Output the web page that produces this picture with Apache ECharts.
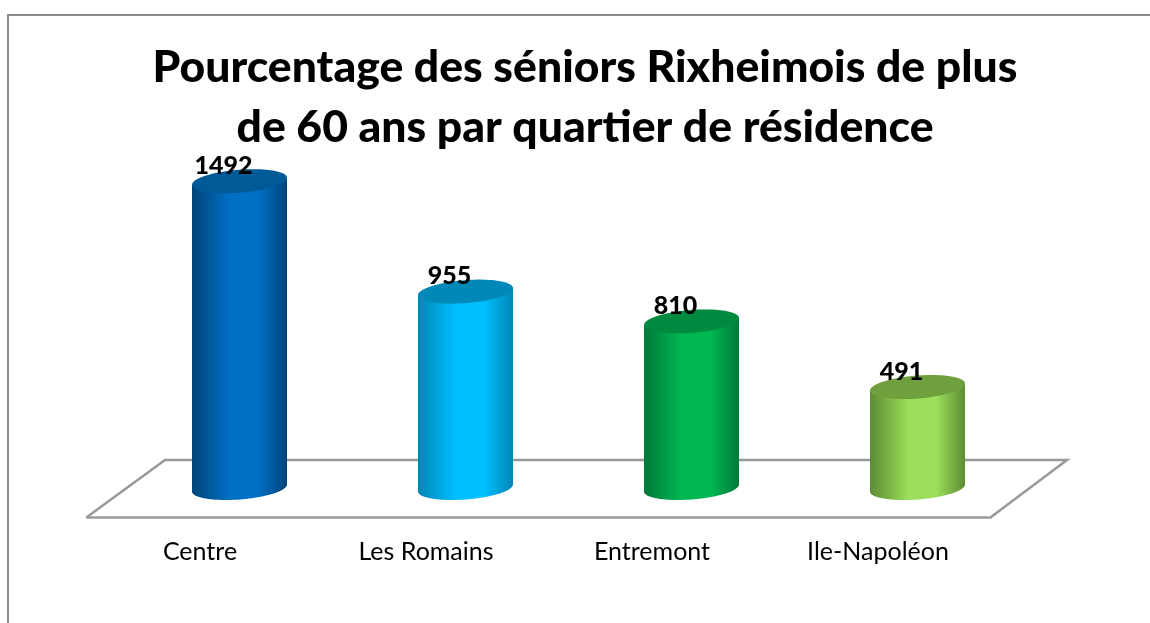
<!DOCTYPE html>
<html>
<head>
<meta charset="utf-8">
<style>
    html, body { margin: 0; padding: 0; background: #fff; }
    #chart { width: 1150px; height: 623px; }
</style>
<script src="https://cdn.jsdelivr.net/npm/echarts@6/dist/echarts.min.js"></script>
</head>
<body>
<div id="chart"></div>
<script>
const quartiers = ['Centre', 'Les Romains', 'Entremont', 'Ile-Napoléon'];
const seniors = [1492, 955, 810, 491];
const titleLines = ['Pourcentage des séniors Rixheimois de plus', 'de 60 ans par quartier de résidence'];

// edge, middle, top of each cylinder
const cylinderColors = [
    ['#00447a', '#0070c4', '#005a98'],
    ['#0086b4', '#00bfff', '#0088b8'],
    ['#00793a', '#00b852', '#008a40'],
    ['#5d8b33', '#9ade5a', '#70a03e']
];

const fontName = 'Lato, "Open Sans", sans-serif';
const depthX = 39.5;   // the bars stand back on the floor
const depthY = -29;
const radiusX = 47.5;
const radiusY = 11.5;
const tilt = 0.074;

function ellipsePoint(cx, cy, t) {
    const x = radiusX * Math.cos(t);
    return [cx + x, cy + radiusY * Math.sin(t) - tilt * x];
}

function renderCylinder(params, api) {
    const i = api.value(0);
    const top = api.coord([i, api.value(1)]);
    const base = api.coord([i, 0]);
    const cx = base[0] + depthX;
    const topY = top[1] + depthY;
    const baseY = base[1] + depthY;
    const colors = cylinderColors[i];

    const steps = 48;
    const body = [];
    const lid = [];
    for (let k = 0; k <= steps; k++) {
        // front half of the base, then back along the top
        body.push(ellipsePoint(cx, baseY, Math.PI * (1 - k / steps)));
    }
    body.push(ellipsePoint(cx, topY, 0), ellipsePoint(cx, topY, Math.PI));
    for (let k = 0; k < steps * 2; k++) {
        lid.push(ellipsePoint(cx, topY, Math.PI * k / steps));
    }

    return {
        type: 'group',
        children: [
            {
                type: 'polygon',
                shape: { points: body },
                style: {
                    fill: new echarts.graphic.LinearGradient(0, 0, 1, 0, [
                        { offset: 0, color: colors[0] },
                        { offset: 0.4, color: colors[1] },
                        { offset: 0.7, color: colors[1] },
                        { offset: 1, color: colors[0] }
                    ])
                }
            },
            {
                type: 'polygon',
                shape: { points: lid },
                style: { fill: colors[2] }
            },
            {
                type: 'text',
                z2: 10,
                style: {
                    x: cx - 16,
                    y: topY - 15.5,
                    text: String(api.value(1)),
                    align: 'center',
                    verticalAlign: 'middle',
                    font: '900 25px ' + fontName,
                    fill: '#000'
                }
            }
        ]
    };
}

const chart = echarts.init(document.getElementById('chart'));
chart.setOption({
    animation: false,
    backgroundColor: '#fff',
    title: {
        text: titleLines.join('\n'),
        left: 580,
        top: 33,
        textAlign: 'center',
        textStyle: {
            fontFamily: fontName,
            fontWeight: 900,
            fontSize: 44.5,
            lineHeight: 60,
            color: '#000'
        }
    },
    grid: { left: 87, width: 904, top: 188, height: 329 },
    xAxis: {
        type: 'category',
        data: quartiers,
        axisTick: { show: false },
        axisLine: { lineStyle: { color: '#999', width: 2.5 } },
        axisLabel: {
            interval: 0,
            margin: 22,
            fontFamily: fontName,
            fontSize: 25,
            color: '#000'
        }
    },
    yAxis: { type: 'value', min: 0, max: 1600, show: false },
    graphic: [
        {
            type: 'polyline',
            z: 0,
            shape: { points: [[87, 517], [165, 460], [1067, 460], [991, 517]] },
            style: { stroke: '#999', lineWidth: 2.5, fill: null }
        },
        {
            type: 'polyline',
            z: 0,
            shape: { points: [[8, 623], [8, 15], [1150, 15]] },
            style: { stroke: '#8c8c8c', lineWidth: 2, fill: null }
        }
    ],
    series: [
        {
            type: 'custom',
            renderItem: renderCylinder,
            encode: { x: 0, y: 1 },
            data: seniors.map((v, i) => [i, v]),
            clip: false
        }
    ]
});
</script>
</body>
</html>
